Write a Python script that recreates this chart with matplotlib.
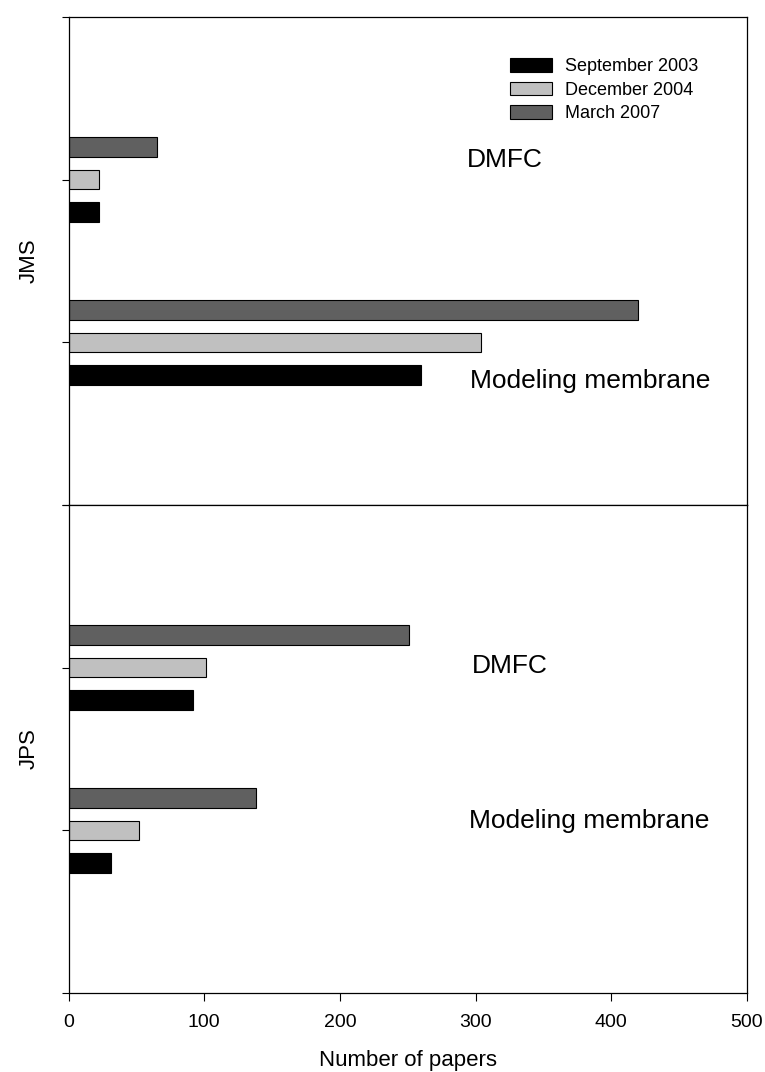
import matplotlib
matplotlib.use("Agg")
import matplotlib.pyplot as plt
import numpy as np

plt.rcParams['font.family'] = ['Liberation Sans', 'DejaVu Sans']

series = ["September 2003", "December 2004", "March 2007"]
colors = ["#000000", "#c0c0c0", "#606060"]
topics = ["DMFC", "Modeling membrane"]
journals = ["JMS", "JPS"]
# values[journal][series] for topics [DMFC, Modeling membrane]
jms_sep2003 = [22, 260]
jms_dec2004 = [22, 304]
jms_mar2007 = [65, 420]
jps_sep2003 = [92, 31]
jps_dec2004 = [101, 52]
jps_mar2007 = [251, 138]
x_ticks = [0, 100, 200, 300, 400, 500]

data = {
    "JMS": [jms_sep2003, jms_dec2004, jms_mar2007],
    "JPS": [jps_sep2003, jps_dec2004, jps_mar2007],
}

W, H = 765, 1072
fig = plt.figure(figsize=(W / 100, H / 100), dpi=100)
left = 68.7 / W
right = 746.7 / W
y_top = 1 - 17 / H
y_mid = 1 - 505 / H
y_bot = 1 - 993 / H

ax_top = fig.add_axes([left, y_mid, right - left, y_top - y_mid])
ax_bot = fig.add_axes([left, y_bot, right - left, y_mid - y_bot])

cat_pos = np.array([1, 2])
offsets = [0.2, 0.0, -0.2]  # sep, dec, mar
bar_h = 0.12

text_pos = {
    "JMS": [(293.7, 0.88), (296.0, 2.24)],
    "JPS": [(297.4, 0.99), (295.2, 1.94)],
}

for ax, j in zip([ax_top, ax_bot], journals):
    for vals, col, off, lab in zip(data[j], colors, offsets, series):
        ax.barh(cat_pos + off, vals, height=bar_h, color=col,
                edgecolor="black", linewidth=0.8, label=lab)
    ax.set_xlim(0, 500)
    ax.set_ylim(3, 0)
    ax.set_yticks([0, 1, 2, 3])
    ax.set_yticklabels([])
    ax.tick_params(axis="y", direction="out", length=5, width=0.8)
    for s in ax.spines.values():
        s.set_linewidth(0.9)
    for (tx, ty), t in zip(text_pos[j], topics):
        ax.text(tx, ty, t, fontsize=19, va="center", ha="left")
    ax.set_ylabel(j, fontsize=16)
    ax.yaxis.set_label_coords(-0.043, 0.5)

ax_top.set_xticks([])
ax_bot.set_xticks(x_ticks)
ax_bot.set_xticklabels([str(v) for v in x_ticks], fontsize=14)
ax_bot.tick_params(axis="x", direction="out", length=6, width=0.8, pad=9)
ax_bot.set_xlabel("Number of papers", fontsize=16, labelpad=14)

handles, labels = ax_top.get_legend_handles_labels()
leg = ax_top.legend(handles, labels, loc="upper left",
                    bbox_to_anchor=(510 / W, 1 - 58 / H),
                    bbox_transform=fig.transFigure, frameon=False,
                    fontsize=13, handlelength=2.33, handleheight=0.78,
                    handletextpad=0.74, labelspacing=0.36,
                    borderpad=0, borderaxespad=0)

fig.savefig("out.png", dpi=100)
